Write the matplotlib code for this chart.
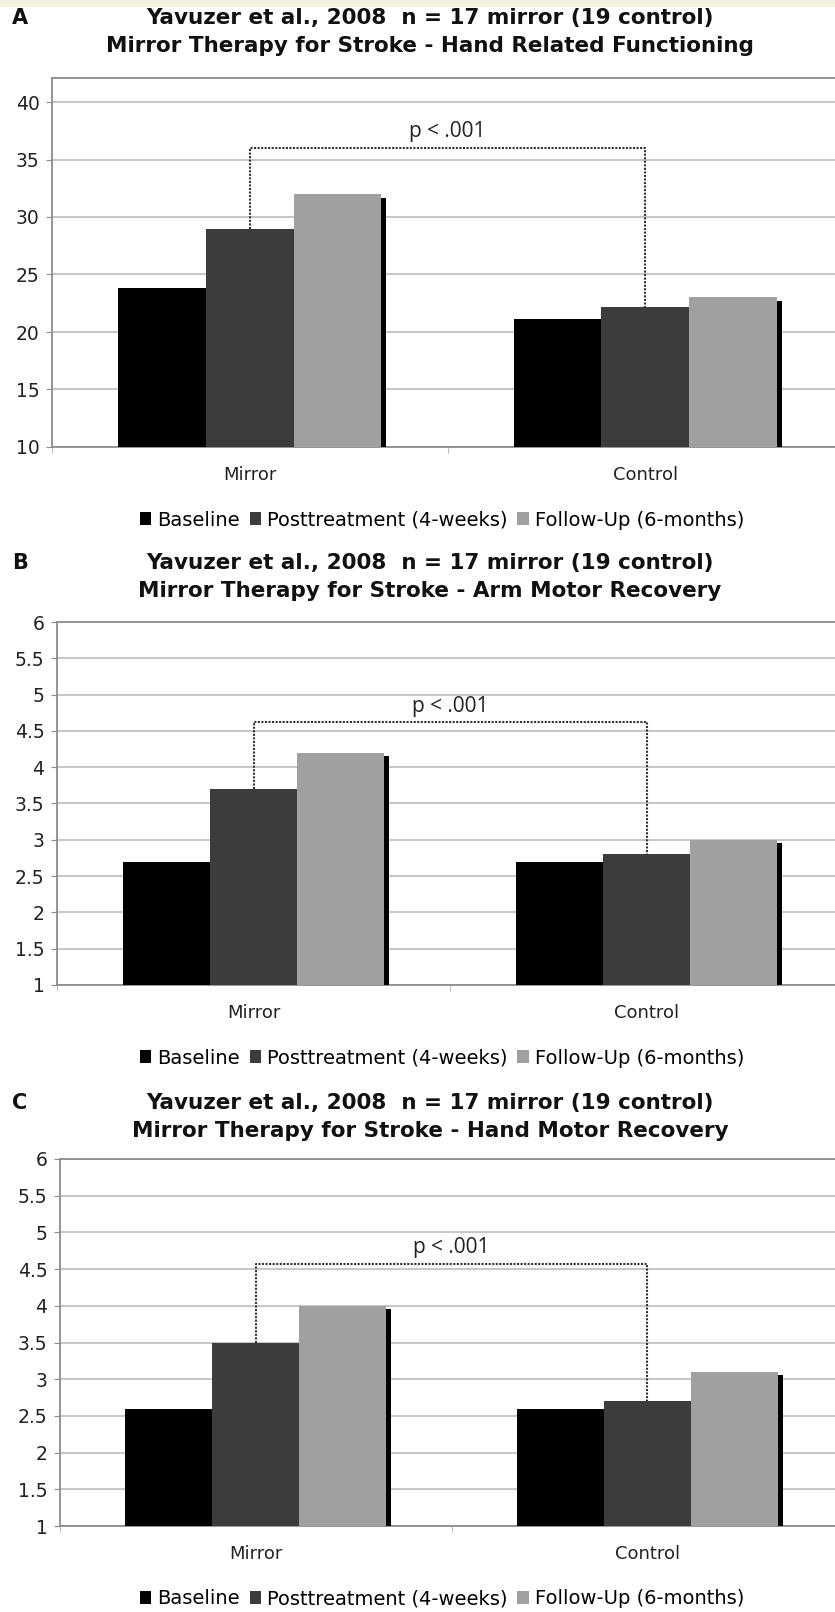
import numpy as np
import matplotlib
matplotlib.use("Agg")
import matplotlib.pyplot as plt
import matplotlib.patheffects as pe
from matplotlib.patches import Rectangle, Patch

categories = ["Mirror", "Control"]
series_names = ["Baseline", "Posttreatment (4-weeks)", "Follow-Up (6-months)"]
series_colors = ["#000000", "#3c3c3c", "#a0a0a0"]

# panel A - hand related functioning
a_baseline = [23.8, 21.1]
a_post = [29.0, 22.2]
a_follow = [32.0, 23.0]
a_yticks = [10, 15, 20, 25, 30, 35, 40]
a_bracket = 36.0

# panel B - arm motor recovery
b_baseline = [2.7, 2.7]
b_post = [3.7, 2.8]
b_follow = [4.2, 3.0]
b_yticks = [1, 1.5, 2, 2.5, 3, 3.5, 4, 4.5, 5, 5.5, 6]
b_bracket = 4.62

# panel C - hand motor recovery
c_baseline = [2.6, 2.6]
c_post = [3.5, 2.7]
c_follow = [4.0, 3.1]
c_yticks = [1, 1.5, 2, 2.5, 3, 3.5, 4, 4.5, 5, 5.5, 6]
c_bracket = 4.57

title_top = "Yavuzer et al., 2008  n = 17 mirror (19 control)"
a_title = "Mirror Therapy for Stroke - Hand Related Functioning"
b_title = "Mirror Therapy for Stroke - Arm Motor Recovery"
c_title = "Mirror Therapy for Stroke - Hand Motor Recovery"
p_text = "p < .001"

W, H = 835, 1612


def px(x, y):
    return x / W, 1 - y / H


def draw_panel(fig, rect, letter, title, values, yticks, ymax, bracket, text_y,
               title_y, legend_y):
    left, top, right, bottom = rect
    ax = fig.add_axes([left / W, 1 - bottom / H, (right - left) / W, (bottom - top) / H])
    x = np.arange(len(categories))
    width = 0.222
    shadow = [pe.SimplePatchShadow(offset=(3.6, -2.6), shadow_rgbFace="black", alpha=1.0),
              pe.Normal()]
    for i, (vals, col) in enumerate(zip(values, series_colors)):
        bars = ax.bar(x + (i - 1) * width, vals, width, color=col, zorder=3)
        for b in bars:
            b.set_path_effects(shadow)

    ax.set_xlim(-0.5, 1.5)
    ax.set_ylim(yticks[0], ymax)
    ax.set_yticks(yticks)
    ax.set_yticklabels([f"{v:g}" for v in yticks])
    ax.yaxis.grid(True, color="#c6c6c6", lw=1.4, zorder=0)
    ax.set_axisbelow(True)
    for s in ["left", "bottom", "top"]:
        ax.spines[s].set_color("#8c8c8c")
        ax.spines[s].set_linewidth(1.3)
    ax.spines["right"].set_visible(False)
    ax.tick_params(axis="y", length=4, color="#8c8c8c", labelsize=13.5, pad=5,
                   labelcolor="#222222")
    ax.set_xticks(x)
    ax.set_xticklabels(categories)
    ax.tick_params(axis="x", length=0, labelsize=13, pad=14, labelcolor="#222222")
    ax.set_xticks([-0.5, 0.5, 1.5], minor=True)
    ax.tick_params(axis="x", which="minor", length=4, color="#b0b0b0")

    # significance bracket between posttreatment bars
    post = values[1]
    ax.plot([x[0], x[0], x[1], x[1]], [post[0], bracket, bracket, post[1]],
            color="#333333", lw=1.5, ls=(0, (1, 0.7)), zorder=4)
    ax.text(0.5, text_y, p_text, ha="center", va="center", fontsize=15,
            family="Open Sans", color="#222222", zorder=5)

    tx, ty = px(430, title_y)
    fig.text(tx, ty, title_top, ha="center", va="center", fontsize=15.5,
             fontweight="bold", color="#111111")
    tx2, ty2 = px(430, title_y + 28)
    fig.text(tx2, ty2, title, ha="center", va="center", fontsize=15.5,
             fontweight="bold", color="#111111")
    lx, ly = px(12, title_y)
    fig.text(lx, ly, letter, ha="left", va="center", fontsize=15,
             fontweight="bold", color="#111111")

    handles = [Patch(facecolor=c, edgecolor="none") for c in series_colors]
    gx, gy = px(442, legend_y)
    fig.legend(handles=handles, labels=series_names, loc="center", bbox_to_anchor=(gx, gy),
               ncol=3, frameon=False, fontsize=14, handlelength=0.6, handleheight=0.6,
               handletextpad=0.3, columnspacing=0.5, borderpad=0)
    return ax


def main():
    fig = plt.figure(figsize=(W / 100, H / 100), dpi=100)
    fig.patches.append(Rectangle((0, 1 - 6 / H), 1, 6 / H, transform=fig.transFigure,
                                 color="#f6f2e2", zorder=0))

    a_ymax = 40 + (102 - 78) / ((447 - 102) / 30)
    draw_panel(fig, (52, 78, 843, 447), "A", a_title, [a_baseline, a_post, a_follow],
               a_yticks, a_ymax, a_bracket, 37.4, 18, 520)
    draw_panel(fig, (57, 622, 843, 985), "B", b_title, [b_baseline, b_post, b_follow],
               b_yticks, 6, b_bracket, 4.84, 563, 1058)
    draw_panel(fig, (60, 1159, 843, 1526), "C", c_title, [c_baseline, c_post, c_follow],
               c_yticks, 6, c_bracket, 4.80, 1103, 1599)

    fig.savefig("out.png", dpi=100)


if __name__ == "__main__":
    main()
